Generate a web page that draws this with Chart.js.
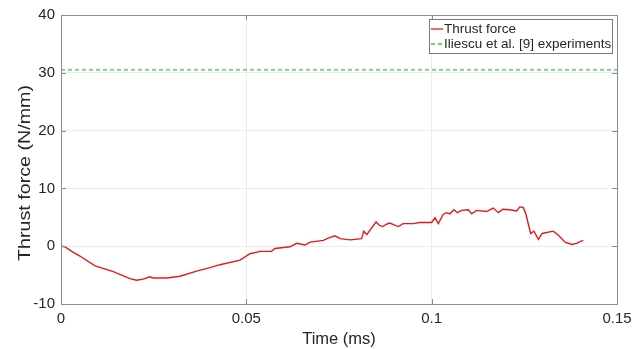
<!DOCTYPE html>
<html>
<head>
<meta charset="utf-8">
<script src="https://cdn.jsdelivr.net/npm/chart.js@4/dist/chart.umd.min.js"></script>
<style>
  html, body { margin: 0; padding: 0; background: #fff; }
  #wrap { width: 644px; height: 349px; }
</style>
</head>
<body>
<div id="wrap"><canvas id="chart" width="644" height="349"></canvas></div>
<script>
// thrust force curve (time in ms, force in N/mm)
var timeMs = [0, 0.001, 0.0029, 0.0051, 0.0092, 0.0141, 0.0186, 0.0204, 0.0222, 0.024, 0.0249,
  0.0285, 0.0321, 0.0366, 0.0402, 0.0429, 0.0483, 0.051, 0.0537, 0.0568, 0.0577, 0.0618,
  0.0636, 0.0658, 0.0672, 0.0708, 0.0721, 0.0739, 0.0753, 0.078, 0.0811, 0.0817, 0.0825,
  0.085, 0.0859, 0.0868, 0.0878, 0.0887, 0.091, 0.0923, 0.095, 0.0968, 0.1, 0.1009, 0.1018,
  0.1031, 0.104, 0.1049, 0.106, 0.1069, 0.1081, 0.1099, 0.1108, 0.1121, 0.1148, 0.1166,
  0.118, 0.1192, 0.1211, 0.1229, 0.1238, 0.1247, 0.1254, 0.1267, 0.1276, 0.1288, 0.1298,
  0.1328, 0.1342, 0.136, 0.1378, 0.1391, 0.14, 0.1409]
var thrust = [0, -0.1, -0.9, -1.7, -3.4, -4.4, -5.6, -5.9, -5.7, -5.3, -5.5,
  -5.5, -5.2, -4.3, -3.7, -3.2, -2.4, -1.3, -0.9, -0.9, -0.4, -0.1,
  0.5, 0.2, 0.7, 1.0, 1.4, 1.8, 1.3, 1.1, 1.3, 2.6, 2.0,
  4.2, 3.6, 3.4, 3.8, 4.0, 3.4, 3.9, 3.9, 4.1, 4.1, 4.9, 3.9,
  5.5, 5.8, 5.6, 6.3, 5.8, 6.2, 6.3, 5.6, 6.2, 6.0, 6.6,
  5.8, 6.4, 6.3, 6.1, 6.8, 6.7, 5.6, 2.2, 2.6, 1.2, 2.2,
  2.6, 1.9, 0.7, 0.3, 0.5, 0.8, 1.0]

var expTime = [0, 0.15]
var expForce = [30.5, 30.5]

var xTicks = [0, 0.05, 0.1, 0.15]
var yTicks = [-10, 0, 10, 20, 30, 40]

var seriesNames = ['Thrust force', 'Iliescu et al. [9] experiments']
var yTitle = 'Thrust force (N/mm)'
var fontFam = '"Liberation Sans", Arial, Helvetica, sans-serif'

function toXY(xs, ys) {
  return xs.map(function (x, i) { return { x: x, y: ys[i] } })
}

// matlab style box, inward ticks, y title and legend inside the axes
var boxPlugin = {
  id: 'boxPlugin',
  afterDraw: function (chart) {
    var ctx = chart.ctx
    var a = chart.chartArea
    var sx = chart.scales.x, sy = chart.scales.y
    ctx.save()
    ctx.strokeStyle = '#8c8c8c'
    ctx.lineWidth = 1
    ctx.strokeRect(a.left + 0.5, a.top + 0.5, a.right - a.left, a.bottom - a.top)
    ctx.beginPath()
    xTicks.forEach(function (t) {
      var px = Math.round(sx.getPixelForValue(t)) + 0.5
      ctx.moveTo(px, a.bottom); ctx.lineTo(px, a.bottom - 5)
      ctx.moveTo(px, a.top); ctx.lineTo(px, a.top + 5)
    })
    yTicks.forEach(function (t) {
      var py = Math.round(sy.getPixelForValue(t)) + 0.5
      ctx.moveTo(a.left, py); ctx.lineTo(a.left + 5, py)
      ctx.moveTo(a.right, py); ctx.lineTo(a.right - 5, py)
    })
    ctx.stroke()

    // y title, stretched a little along its length like the reference
    ctx.save()
    ctx.translate(25, 173)
    ctx.rotate(-Math.PI / 2)
    ctx.font = '17px ' + fontFam
    var w = ctx.measureText(yTitle).width
    ctx.scale(176 / w, 1)
    ctx.fillStyle = '#262626'
    ctx.textAlign = 'center'
    ctx.textBaseline = 'middle'
    ctx.fillText(yTitle, 0, 0)
    ctx.restore()

    // legend
    var lx = 429, ly = 19, lw = 183, lh = 34
    ctx.fillStyle = '#fff'
    ctx.fillRect(lx, ly, lw, lh)
    ctx.strokeStyle = '#7a7a7a'
    ctx.strokeRect(lx + 0.5, ly + 0.5, lw, lh)
    ctx.font = '13.5px ' + fontFam
    ctx.textBaseline = 'middle'
    chart.data.datasets.forEach(function (ds, i) {
      var yy = ly + 10 + i * 15
      ctx.strokeStyle = ds.borderColor
      ctx.lineWidth = 1.3
      ctx.setLineDash(ds.borderDash || [])
      ctx.beginPath(); ctx.moveTo(lx + 2, yy); ctx.lineTo(lx + 14, yy); ctx.stroke()
      ctx.setLineDash([])
      ctx.fillStyle = '#262626'
      ctx.fillText(ds.label, lx + 15, yy)
    })
    ctx.restore()
  }
}

new Chart(document.getElementById('chart'), {
  type: 'line',
  data: {
    datasets: [
      {
        label: seriesNames[0],
        data: toXY(timeMs, thrust),
        borderColor: '#e31a1c',
        borderWidth: 1.4,
        pointRadius: 0,
        tension: 0,
        fill: false
      },
      {
        label: seriesNames[1],
        data: toXY(expTime, expForce),
        borderColor: '#33cc33',
        borderWidth: 1.1,
        borderDash: [4, 3],
        pointRadius: 0,
        fill: false
      }
    ]
  },
  options: {
    responsive: false,
    animation: false,
    layout: { padding: { top: 14, right: 27, left: 0, bottom: 0 } },
    plugins: {
      legend: { display: false },
      tooltip: { enabled: false }
    },
    scales: {
      x: {
        type: 'linear',
        min: 0,
        max: 0.15,
        afterBuildTicks: function (s) { s.ticks = xTicks.map(function (v) { return { value: v } }) },
        afterFit: function (s) { s.height = 45 },
        grid: { color: '#ececec', drawTicks: false },
        border: { display: false },
        ticks: {
          padding: 6,
          color: '#262626',
          font: { family: fontFam, size: 15 },
          maxRotation: 0,
          callback: function (v) { return String(Number(v.toFixed(3))) }
        },
        title: {
          display: true,
          text: 'Time (ms)',
          color: '#262626',
          font: { family: fontFam, size: 16.5 },
          padding: { top: 0, bottom: 0 }
        }
      },
      y: {
        min: -10,
        max: 40,
        afterBuildTicks: function (s) { s.ticks = yTicks.map(function (v) { return { value: v } }) },
        afterFit: function (s) { s.width = 61 },
        grid: { color: '#ececec', drawTicks: false },
        border: { display: false },
        ticks: {
          padding: 6,
          color: '#262626',
          font: { family: fontFam, size: 15 }
        },
        title: { display: false }
      }
    }
  },
  plugins: [boxPlugin]
})
</script>
</body>
</html>
